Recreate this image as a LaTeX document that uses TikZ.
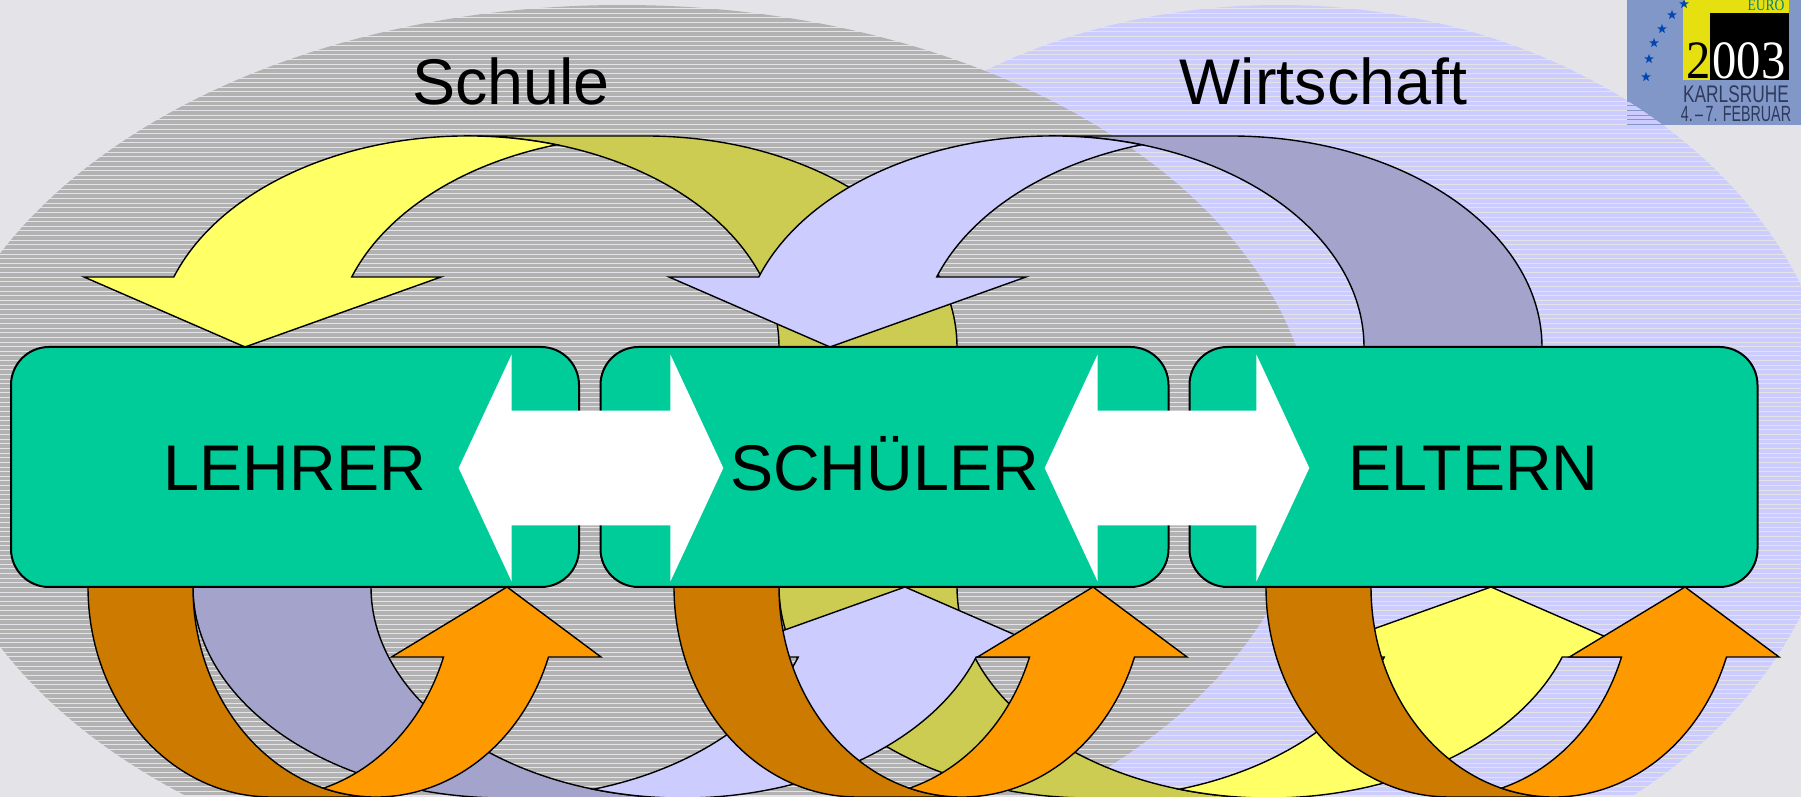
\documentclass[tikz,border=0pt]{standalone}
\usepackage{fontspec}
\setmainfont{Liberation Sans}
\newfontfamily\logoserif{Liberation Serif}
\usetikzlibrary{shapes.arrows,shapes.geometric}

\definecolor{hinter}{HTML}{E4E4E8}
\definecolor{grau}{HTML}{B2B2B2}
\definecolor{blau}{HTML}{CCCCFF}
\definecolor{blaudunkel}{HTML}{A3A3CC}
\definecolor{gelb}{HTML}{FFFF66}
\definecolor{gelbdunkel}{HTML}{CCCC52}
\definecolor{orange}{HTML}{FF9900}
\definecolor{braun}{HTML}{CC7A00}
\definecolor{gruen}{HTML}{00CC99}
\definecolor{logoblau}{HTML}{8097C8}
\definecolor{logogelb}{HTML}{E6E010}
\definecolor{logotext}{HTML}{2E3A5C}

\tikzset{
  pfeil/.style={draw=black,line width=0.7pt,line join=miter},
  kasten/.style={draw=black,line width=1pt,fill=gruen,rounded corners=19pt,
    minimum width=284pt,minimum height=120pt,inner sep=0pt,
    text height=23.6pt,text depth=0pt,font=\fontsize{32.3}{32.3}\selectfont},
  titel/.style={anchor=base,inner sep=0pt,font=\fontsize{32.3}{32.3}\selectfont},
  weiss/.style={shape=double arrow,fill=white,inner xsep=0pt,inner ysep=28.5pt,minimum height=132.3pt,
    double arrow head extend=28pt,double arrow tip angle=130},
  stern/.style={shape=star,star points=5,star point ratio=2.4,fill=blue!60!cyan!70!black,
    inner sep=0pt,minimum size=5pt}
}

% tip x, tip y, rotation, front colour, back colour
\newcommand\grosspfeil[5]{
\scope[shift={(#1,#2)},rotate=#3]
\filldraw[pfeil,fill=#5] (222.6,211) -- (400.6,211)
  arc[start angle=90,end angle=0,x radius=311.4,y radius=211] -- (534,0)
  arc[start angle=0,end angle=90,x radius=311.4,y radius=211] -- cycle;
\filldraw[pfeil,fill=#4] (-71.2,70)
  arc[start angle=160.63,end angle=73.4,x radius=311.4,y radius=211]
  arc[start angle=106.6,end angle=160.63,x radius=311.4,y radius=211]
  -- (196,70) -- (0,0) -- (-161,70) -- cycle;
\endscope}

% tip x
\newcommand\kleinpfeil[1]{
\scope[shift={(#1,210)}]
\filldraw[pfeil,fill=braun] (-419,0)
  arc[start angle=180,end angle=270,x radius=183,y radius=210] -- (-131,-210)
  arc[start angle=270,end angle=180,x radius=183,y radius=210] -- cycle;
\filldraw[pfeil,fill=orange] (41.5,-70)
  arc[start angle=340.53,end angle=253.33,x radius=183,y radius=210]
  arc[start angle=286.67,end angle=340.53,x radius=183,y radius=210]
  -- (-115.5,-70) -- (0,0) -- (94,-70) -- cycle;
\endscope}

\begin{document}
\begin{tikzpicture}[x=0.5pt,y=0.5pt]
\useasboundingbox (0,0) rectangle (1801,797);
\clip (0,0) rectangle (1801,797);
\fill[hinter] (0,0) rectangle (1801,797);

% logo
\fill[logoblau] (1627,672) rectangle (1801,797);
\fill[logogelb] (1683,717) rectangle (1789,797);
\fill[black] (1710,717) rectangle (1789,784);
\node[anchor=base,inner sep=0pt,text=teal,xscale=.85,font=\logoserif\fontsize{8}{8}\selectfont] (euro) at (1766,786) {EURO};
\node[anchor=base,inner sep=0pt,xscale=.9,font=\logoserif\fontsize{27}{27}\selectfont] (zwei) at (1699,718) {2};
\node[anchor=base,inner sep=0pt,xscale=.9,text=white,font=\logoserif\fontsize{27}{27}\selectfont] (rest) at (1749,718) {003};
\node[anchor=base,inner sep=0pt,xscale=.72,text=logotext,font=\fontsize{12}{12}\selectfont] (ort) at (1736,694) {KARLSRUHE};
\node[anchor=base,inner sep=0pt,xscale=.65,text=logotext,font=\fontsize{11}{11}\selectfont] (datum) at (1736,675) {4.\,--\,7. FEBRUAR};
\foreach \x/\y [count=\i] in {1646/720,1649/738,1654/754,1662/768,1672/782,1684/793}
  \node[stern] (s\i) at (\x,\y) {};

% Wirtschaft and Schule, striped
\scope
\clip (1279,347) ellipse [x radius=562,y radius=445];
\foreach \n in {0,...,171}
  \draw[blau,line width=1.815pt] (700,\n*4.63+3.545) -- (1801,\n*4.63+3.545);
\endscope
\scope
\clip (622,347) ellipse [x radius=693,y radius=445];
\foreach \n in {0,...,171}
  \draw[grau,line width=1.815pt] (0,\n*4.63+3.545) -- (1400,\n*4.63+3.545);
\endscope

\node[titel] (schule) at (511,692) {Schule};
\node[titel] (wirtschaft) at (1323.5,692) {Wirtschaft};

% big arrows
\grosspfeil{245}{450}{0}{gelb}{gelbdunkel}
\grosspfeil{830}{450}{0}{blau}{blaudunkel}
\grosspfeil{1491}{210}{180}{gelb}{gelbdunkel}
\grosspfeil{905}{210}{180}{blau}{blaudunkel}

% small arrows
\kleinpfeil{507}
\kleinpfeil{1093}
\kleinpfeil{1685}

\node[kasten] (lehrer) at (295,330) {LEHRER};
\node[kasten] (schueler) at (884.5,330) {SCHÜLER};
\node[kasten] (eltern) at (1473.5,330) {ELTERN};

\node[weiss] (ls) at (591,329) {};
\node[weiss] (se) at (1177,329) {};
\end{tikzpicture}
\end{document}
